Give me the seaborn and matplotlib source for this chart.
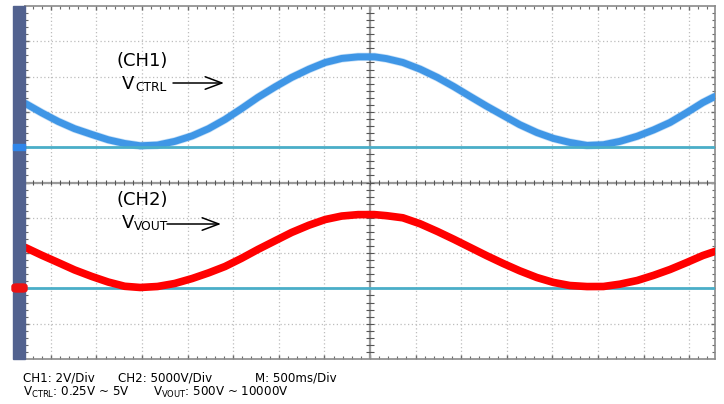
import numpy as np
import pandas as pd
import matplotlib
matplotlib.use("Agg")
import matplotlib.pyplot as plt
from matplotlib.patches import Rectangle, FancyBboxPatch
import seaborn as sns

# scope readings (time in s, CH1 in V, CH2 in V)
ch1_time = [-3.78, -3.60, -3.42, -3.24, -3.05, -2.87, -2.69, -2.52, -2.33, -2.14,
            -1.95, -1.77, -1.59, -1.41, -1.23, -1.04, -0.86, -0.67, -0.49, -0.31,
            -0.13, 0.05, 0.18, 0.36, 0.55, 0.74, 0.92, 1.10, 1.28, 1.46,
            1.64, 1.83, 2.01, 2.19, 2.38, 2.56, 2.74, 2.93, 3.11, 3.29,
            3.47, 3.65, 3.78]
ch1_volt = [2.48, 1.95, 1.46, 1.05, 0.72, 0.42, 0.21, 0.08, 0.12, 0.33,
            0.64, 1.05, 1.57, 2.18, 2.82, 3.42, 3.95, 4.42, 4.80, 5.03,
            5.12, 5.12, 5.02, 4.80, 4.42, 3.95, 3.43, 2.87, 2.32, 1.80,
            1.28, 0.83, 0.50, 0.27, 0.10, 0.14, 0.33, 0.62, 0.98, 1.40,
            1.95, 2.53, 2.87]

ch2_time = ch1_time
ch2_volt = [5800, 4700, 3670, 2620, 1690, 900, 300, 130, 270, 700,
            1400, 2200, 3100, 4250, 5510, 6750, 7920, 8950, 9760, 10250,
            10450, 10450, 10300, 10000, 9150, 8060, 6950, 5790, 4630, 3530,
            2500, 1540, 850, 410, 260, 270, 600, 1120, 1850, 2680,
            3650, 4660, 5230]

ch1_scale = 2.0      # V/div
ch2_scale = 5000.0   # V/div
time_div = 0.5       # s/div
ch1_offset = 1.0     # div
ch2_offset = -3.0    # div

info_line1 = ["CH1: 2V/Div", "CH2: 5000V/Div", "M: 500ms/Div"]
info_line2 = ["V$_{CTRL}$: 0.25V ~ 5V", "V$_{VOUT}$: 500V ~ 10000V"]

sns.set_style("white")
plt.rcParams['font.family'] = ['DejaVu Sans']
plt.rcParams['text.color'] = 'black'
plt.rcParams['mathtext.fontset'] = 'dejavusans'
plt.rcParams['mathtext.default'] = 'regular'

W, H = 724, 404
fig = plt.figure(figsize=(7.24, 4.04), dpi=100)
fig.patch.set_facecolor('white')

def fx(px):
    return px / W

def fy(py):
    return 1 - py / H

ax = fig.add_axes([fx(25), fy(359), fx(715) - fx(25), fy(6) - fy(359)])
half = 345 / 45.6 * time_div
ax.set_xlim(-half, half)
ax.set_ylim(-5, 5)

# graticule
ax.set_xticks(np.arange(-7, 8) * time_div)
ax.set_yticks(np.arange(-4, 5))
ax.set_xticks(np.arange(-37, 38) * time_div / 5, minor=True)
ax.set_yticks(np.arange(-24, 25) * 0.2, minor=True)
ax.grid(True, which='major', ls=(0, (1, 2)), color='#bdbdbd', lw=0.9)
ax.tick_params(which='both', direction='in', top=True, right=True, bottom=True, left=True,
               labelbottom=False, labelleft=False, color='#6a6a6a')
ax.tick_params(which='major', length=3, width=1)
ax.tick_params(which='minor', length=2.5, width=0.8)
for s in ax.spines.values():
    s.set_color('#8a8a8a')
    s.set_linewidth(1.2)

ax.axhline(0, color='#9a9a9a', lw=1.6, zorder=1)
ax.axvline(0, color='#9a9a9a', lw=1.6, zorder=1)
ax.vlines(np.arange(-37, 38) * time_div / 5, -0.07, 0.07, color='#555555', lw=0.8, zorder=1)
ax.hlines(np.arange(-24, 25) * 0.2, -0.04, 0.04, color='#555555', lw=0.8, zorder=1)

blue = '#3f96e6'
red = '#ff0000'
teal = '#4aaec8'

df1 = pd.DataFrame({'t': ch1_time, 'div': np.array(ch1_volt) / ch1_scale + ch1_offset})
df2 = pd.DataFrame({'t': ch2_time, 'div': np.array(ch2_volt) / ch2_scale + ch2_offset})

sns.lineplot(data=df1, x='t', y='div', color=blue, lw=6, alpha=0.3, estimator=None, ax=ax,
             zorder=3, solid_joinstyle='round')
sns.lineplot(data=df1, x='t', y='div', color=blue, lw=5, estimator=None, ax=ax, zorder=3,
             solid_joinstyle='round')
ax.axhline(ch1_offset, color=teal, lw=2, zorder=4)
ax.axhline(ch2_offset, color=teal, lw=2, zorder=4)
sns.lineplot(data=df2, x='t', y='div', color=red, lw=5.5, estimator=None, ax=ax, zorder=5,
             solid_joinstyle='round')
ax.set_xlabel('')
ax.set_ylabel('')

# left channel bar
fig.patches.append(Rectangle((fx(13), fy(359)), fx(25) - fx(13), fy(6) - fy(359),
                             transform=fig.transFigure, color='#52628f', zorder=0))
fig.patches.append(Rectangle((fx(13), fy(150)), fx(25) - fx(13), fy(144) - fy(150),
                             transform=fig.transFigure, color='#2f86ea', zorder=5))
fig.text(fx(19), fy(147), 'CH1', fontsize=3.2, style='italic', color='#0a2a70',
         ha='center', va='center')
fig.patches.append(FancyBboxPatch((fx(12), fy(292)), fx(27) - fx(12), fy(284) - fy(292),
                                  boxstyle='round,pad=0,rounding_size=0.006',
                                  transform=fig.transFigure, color='#ee1111', zorder=5))
fig.text(fx(19), fy(288), 'CH2', fontsize=3.6, color='#600000', ha='center', va='center')

# channel annotations
fig.text(fx(142), fy(61), '(CH1)', fontsize=13, ha='center', va='center')
fig.text(fx(122), fy(89), 'V', fontsize=13, ha='left', va='baseline')
fig.text(fx(135), fy(91), 'CTRL', fontsize=8.8, ha='left', va='baseline')
fig.text(fx(142), fy(200), '(CH2)', fontsize=13, ha='center', va='center')
fig.text(fx(122), fy(228), 'V', fontsize=13, ha='left', va='baseline')
fig.text(fx(134), fy(230), 'VOUT', fontsize=8.8, ha='left', va='baseline')

arrow = dict(arrowstyle='->,head_length=1.2,head_width=0.45', color='black', lw=1.1,
             shrinkA=0, shrinkB=0)
ax.annotate('', xy=(fx(224), fy(83)), xytext=(fx(173), fy(83)), xycoords='figure fraction',
            arrowprops=arrow)
ax.annotate('', xy=(fx(221), fy(224)), xytext=(fx(167), fy(224)), xycoords='figure fraction',
            arrowprops=arrow)

# settings text
for txt, px in zip(info_line1, [23, 118, 255]):
    fig.text(fx(px), fy(378), txt, fontsize=8.6, ha='left', va='center')
for txt, px in zip(info_line2, [23, 153]):
    fig.text(fx(px), fy(392), txt, fontsize=8.6, ha='left', va='center')

fig.savefig('out.png', dpi=100)
